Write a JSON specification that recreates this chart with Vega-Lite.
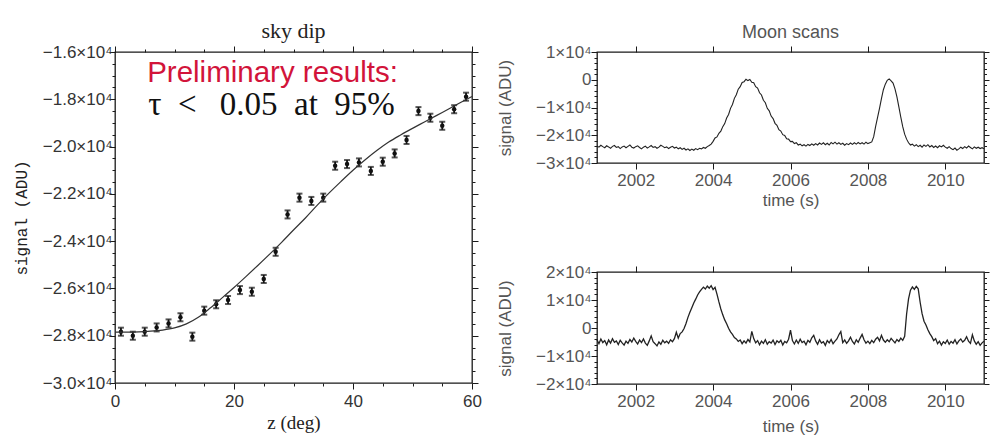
{
  "$schema": "https://vega.github.io/schema/vega-lite/v6.json",
  "background": "white",
  "padding": {"left": 12, "top": 19, "right": 0, "bottom": 0},
  "bounds": "flush",
  "config": {
    "view": {"stroke": "#1a1a1a", "strokeWidth": 1.3},
    "axis": {"domain": false, "grid": false, "ticks": true, "tickColor": "#1a1a1a", "tickWidth": 1, "labelFont": "Liberation Sans", "titleFont": "Liberation Sans", "titleFontWeight": "normal", "labelOverlap": false, "labelFlush": false},
    "title": {"fontWeight": "normal"}
  },
  "datasets": {
    "sky": [
      {"z": 1, "s": -27830, "lo": -28000, "hi": -27660},
      {"z": 3, "s": -28000, "lo": -28170, "hi": -27830},
      {"z": 5, "s": -27830, "lo": -28000, "hi": -27660},
      {"z": 7, "s": -27650, "lo": -27820, "hi": -27480},
      {"z": 9, "s": -27480, "lo": -27650, "hi": -27310},
      {"z": 11, "s": -27220, "lo": -27390, "hi": -27050},
      {"z": 13, "s": -28040, "lo": -28210, "hi": -27870},
      {"z": 15, "s": -26940, "lo": -27110, "hi": -26770},
      {"z": 17, "s": -26670, "lo": -26840, "hi": -26500},
      {"z": 19, "s": -26490, "lo": -26660, "hi": -26320},
      {"z": 21, "s": -26070, "lo": -26240, "hi": -25900},
      {"z": 23, "s": -26140, "lo": -26310, "hi": -25970},
      {"z": 25, "s": -25600, "lo": -25770, "hi": -25430},
      {"z": 27, "s": -24450, "lo": -24620, "hi": -24280},
      {"z": 29, "s": -22870, "lo": -23040, "hi": -22700},
      {"z": 31, "s": -22160, "lo": -22330, "hi": -21990},
      {"z": 33, "s": -22300, "lo": -22470, "hi": -22130},
      {"z": 35, "s": -22160, "lo": -22330, "hi": -21990},
      {"z": 37, "s": -20810, "lo": -20980, "hi": -20640},
      {"z": 39, "s": -20740, "lo": -20910, "hi": -20570},
      {"z": 41, "s": -20670, "lo": -20840, "hi": -20500},
      {"z": 43, "s": -21030, "lo": -21200, "hi": -20860},
      {"z": 45, "s": -20640, "lo": -20810, "hi": -20470},
      {"z": 47, "s": -20290, "lo": -20460, "hi": -20120},
      {"z": 49, "s": -19720, "lo": -19890, "hi": -19550},
      {"z": 51, "s": -18500, "lo": -18670, "hi": -18330},
      {"z": 53, "s": -18780, "lo": -18950, "hi": -18610},
      {"z": 55, "s": -19120, "lo": -19290, "hi": -18950},
      {"z": 57, "s": -18420, "lo": -18590, "hi": -18250},
      {"z": 59, "s": -17890, "lo": -18060, "hi": -17720}
    ],
    "fit": [
      {"z": 0, "s": -27850}, {"z": 2, "s": -27850}, {"z": 4, "s": -27840}, {"z": 6, "s": -27810},
      {"z": 8, "s": -27760}, {"z": 10, "s": -27670}, {"z": 12, "s": -27500}, {"z": 14, "s": -27220},
      {"z": 16, "s": -26830}, {"z": 18, "s": -26400}, {"z": 20, "s": -25960}, {"z": 22, "s": -25500},
      {"z": 24, "s": -25030}, {"z": 26, "s": -24550}, {"z": 28, "s": -24050}, {"z": 30, "s": -23530},
      {"z": 32, "s": -23020}, {"z": 34, "s": -22480}, {"z": 36, "s": -21960}, {"z": 38, "s": -21470},
      {"z": 40, "s": -21000}, {"z": 42, "s": -20570}, {"z": 44, "s": -20170}, {"z": 46, "s": -19810},
      {"z": 48, "s": -19510}, {"z": 50, "s": -19230}, {"z": 52, "s": -18960}, {"z": 54, "s": -18690},
      {"z": 56, "s": -18420}, {"z": 58, "s": -18150}, {"z": 60, "s": -17880}
    ],
    "moon1": [
      {"t": 2001.00, "s": -23900}, {"t": 2001.05, "s": -24300}, {"t": 2001.10, "s": -23600}, {"t": 2001.15, "s": -24100},
      {"t": 2001.20, "s": -24500}, {"t": 2001.25, "s": -23800}, {"t": 2001.30, "s": -24200}, {"t": 2001.35, "s": -24700},
      {"t": 2001.40, "s": -24000}, {"t": 2001.45, "s": -23700}, {"t": 2001.50, "s": -24400}, {"t": 2001.55, "s": -24100},
      {"t": 2001.60, "s": -24800}, {"t": 2001.65, "s": -24200}, {"t": 2001.70, "s": -23900}, {"t": 2001.75, "s": -24500},
      {"t": 2001.80, "s": -24000}, {"t": 2001.85, "s": -23500}, {"t": 2001.90, "s": -24300}, {"t": 2001.95, "s": -24600},
      {"t": 2002.00, "s": -24100}, {"t": 2002.05, "s": -23800}, {"t": 2002.10, "s": -24400}, {"t": 2002.15, "s": -24900},
      {"t": 2002.20, "s": -24300}, {"t": 2002.25, "s": -23900}, {"t": 2002.30, "s": -24600}, {"t": 2002.35, "s": -24200},
      {"t": 2002.40, "s": -23700}, {"t": 2002.45, "s": -24400}, {"t": 2002.50, "s": -24100}, {"t": 2002.55, "s": -24700},
      {"t": 2002.60, "s": -24300}, {"t": 2002.65, "s": -23600}, {"t": 2002.70, "s": -24000}, {"t": 2002.75, "s": -24500},
      {"t": 2002.80, "s": -24200}, {"t": 2002.85, "s": -24800}, {"t": 2002.90, "s": -24300}, {"t": 2002.95, "s": -24000},
      {"t": 2003.00, "s": -24600}, {"t": 2003.05, "s": -24300}, {"t": 2003.10, "s": -24900}, {"t": 2003.15, "s": -24500},
      {"t": 2003.20, "s": -25100}, {"t": 2003.25, "s": -24700}, {"t": 2003.30, "s": -25300}, {"t": 2003.35, "s": -24900},
      {"t": 2003.40, "s": -25500}, {"t": 2003.45, "s": -25000}, {"t": 2003.50, "s": -25400}, {"t": 2003.55, "s": -24800},
      {"t": 2003.60, "s": -25200}, {"t": 2003.65, "s": -24700}, {"t": 2003.70, "s": -24900}, {"t": 2003.75, "s": -24400},
      {"t": 2003.80, "s": -24700}, {"t": 2003.85, "s": -24100}, {"t": 2003.90, "s": -23700}, {"t": 2003.95, "s": -23200},
      {"t": 2004.00, "s": -22200}, {"t": 2004.05, "s": -21000}, {"t": 2004.10, "s": -20600}, {"t": 2004.15, "s": -19300},
      {"t": 2004.20, "s": -18500}, {"t": 2004.25, "s": -16900}, {"t": 2004.30, "s": -15800}, {"t": 2004.35, "s": -13800},
      {"t": 2004.40, "s": -12500}, {"t": 2004.45, "s": -10300}, {"t": 2004.50, "s": -8900}, {"t": 2004.55, "s": -6700},
      {"t": 2004.60, "s": -5400}, {"t": 2004.65, "s": -3400}, {"t": 2004.70, "s": -2500}, {"t": 2004.75, "s": -1000},
      {"t": 2004.80, "s": -700}, {"t": 2004.85, "s": 200}, {"t": 2004.90, "s": -300}, {"t": 2004.95, "s": 100},
      {"t": 2005.00, "s": -900}, {"t": 2005.05, "s": -1100}, {"t": 2005.10, "s": -2500}, {"t": 2005.15, "s": -3000},
      {"t": 2005.20, "s": -4700}, {"t": 2005.25, "s": -5500}, {"t": 2005.30, "s": -7400}, {"t": 2005.35, "s": -8300},
      {"t": 2005.40, "s": -10300}, {"t": 2005.45, "s": -11200}, {"t": 2005.50, "s": -13100}, {"t": 2005.55, "s": -14000},
      {"t": 2005.60, "s": -15700}, {"t": 2005.65, "s": -16400}, {"t": 2005.70, "s": -18000}, {"t": 2005.75, "s": -18500},
      {"t": 2005.80, "s": -19800}, {"t": 2005.85, "s": -20100}, {"t": 2005.90, "s": -21300}, {"t": 2005.95, "s": -21400},
      {"t": 2006.00, "s": -22300}, {"t": 2006.05, "s": -22200}, {"t": 2006.10, "s": -23000}, {"t": 2006.15, "s": -22700},
      {"t": 2006.20, "s": -23500}, {"t": 2006.25, "s": -23200}, {"t": 2006.30, "s": -23800}, {"t": 2006.35, "s": -23400},
      {"t": 2006.40, "s": -23900}, {"t": 2006.45, "s": -23300}, {"t": 2006.50, "s": -23700}, {"t": 2006.55, "s": -23100},
      {"t": 2006.60, "s": -23600}, {"t": 2006.65, "s": -23000}, {"t": 2006.70, "s": -23500}, {"t": 2006.75, "s": -22800},
      {"t": 2006.80, "s": -23300}, {"t": 2006.85, "s": -22700}, {"t": 2006.90, "s": -23400}, {"t": 2006.95, "s": -22900},
      {"t": 2007.00, "s": -23500}, {"t": 2007.05, "s": -22600}, {"t": 2007.10, "s": -23100}, {"t": 2007.15, "s": -22500},
      {"t": 2007.20, "s": -23200}, {"t": 2007.25, "s": -22700}, {"t": 2007.30, "s": -23300}, {"t": 2007.35, "s": -22900},
      {"t": 2007.40, "s": -23600}, {"t": 2007.45, "s": -23000}, {"t": 2007.50, "s": -23400}, {"t": 2007.55, "s": -22800},
      {"t": 2007.60, "s": -23300}, {"t": 2007.65, "s": -22700}, {"t": 2007.70, "s": -23200}, {"t": 2007.75, "s": -22600},
      {"t": 2007.80, "s": -23100}, {"t": 2007.85, "s": -22700}, {"t": 2007.90, "s": -23200}, {"t": 2007.95, "s": -22500},
      {"t": 2008.00, "s": -23000}, {"t": 2008.05, "s": -22700}, {"t": 2008.10, "s": -22400}, {"t": 2008.15, "s": -20500},
      {"t": 2008.20, "s": -16800}, {"t": 2008.25, "s": -13600}, {"t": 2008.30, "s": -10300}, {"t": 2008.35, "s": -6800},
      {"t": 2008.40, "s": -3600}, {"t": 2008.45, "s": -1600}, {"t": 2008.50, "s": -200}, {"t": 2008.55, "s": 300},
      {"t": 2008.60, "s": -400}, {"t": 2008.65, "s": -1200}, {"t": 2008.70, "s": -3300}, {"t": 2008.75, "s": -6200},
      {"t": 2008.80, "s": -9800}, {"t": 2008.85, "s": -13500}, {"t": 2008.90, "s": -16900}, {"t": 2008.95, "s": -19600},
      {"t": 2009.00, "s": -21400}, {"t": 2009.05, "s": -22700}, {"t": 2009.10, "s": -23500}, {"t": 2009.15, "s": -23200},
      {"t": 2009.20, "s": -23900}, {"t": 2009.25, "s": -23400}, {"t": 2009.30, "s": -24100}, {"t": 2009.35, "s": -23600},
      {"t": 2009.40, "s": -24300}, {"t": 2009.45, "s": -23500}, {"t": 2009.50, "s": -24000}, {"t": 2009.55, "s": -23400},
      {"t": 2009.60, "s": -24200}, {"t": 2009.65, "s": -23700}, {"t": 2009.70, "s": -24400}, {"t": 2009.75, "s": -23900},
      {"t": 2009.80, "s": -24500}, {"t": 2009.85, "s": -23800}, {"t": 2009.90, "s": -24200}, {"t": 2009.95, "s": -23600},
      {"t": 2010.00, "s": -24300}, {"t": 2010.05, "s": -24700}, {"t": 2010.10, "s": -24100}, {"t": 2010.15, "s": -24800},
      {"t": 2010.20, "s": -25200}, {"t": 2010.25, "s": -24600}, {"t": 2010.30, "s": -25400}, {"t": 2010.35, "s": -24900},
      {"t": 2010.40, "s": -24300}, {"t": 2010.45, "s": -24800}, {"t": 2010.50, "s": -24100}, {"t": 2010.55, "s": -24600},
      {"t": 2010.60, "s": -23900}, {"t": 2010.65, "s": -24400}, {"t": 2010.70, "s": -24900}, {"t": 2010.75, "s": -24200},
      {"t": 2010.80, "s": -24700}, {"t": 2010.85, "s": -24300}, {"t": 2010.90, "s": -24800}, {"t": 2010.95, "s": -24500},
      {"t": 2011.00, "s": -24900}
    ],
    "moon2": [
      {"t": 2001.00, "s": -4200}, {"t": 2001.05, "s": -5600}, {"t": 2001.10, "s": -3900}, {"t": 2001.15, "s": -5200},
      {"t": 2001.20, "s": -4500}, {"t": 2001.25, "s": -6000}, {"t": 2001.30, "s": -4300}, {"t": 2001.35, "s": -5400},
      {"t": 2001.40, "s": -3800}, {"t": 2001.45, "s": -5100}, {"t": 2001.50, "s": -4600}, {"t": 2001.55, "s": -5900},
      {"t": 2001.60, "s": -4400}, {"t": 2001.65, "s": -5300}, {"t": 2001.70, "s": -6100}, {"t": 2001.75, "s": -4700},
      {"t": 2001.80, "s": -5500}, {"t": 2001.85, "s": -4100}, {"t": 2001.90, "s": -5000}, {"t": 2001.95, "s": -3600},
      {"t": 2002.00, "s": -4800}, {"t": 2002.05, "s": -5700}, {"t": 2002.10, "s": -4300}, {"t": 2002.15, "s": -5200},
      {"t": 2002.20, "s": -3900}, {"t": 2002.25, "s": -5400}, {"t": 2002.30, "s": -6200}, {"t": 2002.35, "s": -4600},
      {"t": 2002.40, "s": -2800}, {"t": 2002.45, "s": -4900}, {"t": 2002.50, "s": -5600}, {"t": 2002.55, "s": -6400},
      {"t": 2002.60, "s": -5000}, {"t": 2002.65, "s": -5800}, {"t": 2002.70, "s": -4400}, {"t": 2002.75, "s": -5300},
      {"t": 2002.80, "s": -4700}, {"t": 2002.85, "s": -5500}, {"t": 2002.90, "s": -4200}, {"t": 2002.95, "s": -4900},
      {"t": 2003.00, "s": -3800}, {"t": 2003.05, "s": -1500}, {"t": 2003.10, "s": -3600}, {"t": 2003.15, "s": -2000},
      {"t": 2003.20, "s": -1400}, {"t": 2003.25, "s": -200}, {"t": 2003.30, "s": 1600}, {"t": 2003.35, "s": 3800},
      {"t": 2003.40, "s": 5600}, {"t": 2003.45, "s": 7200}, {"t": 2003.50, "s": 8900}, {"t": 2003.55, "s": 10300},
      {"t": 2003.60, "s": 11800}, {"t": 2003.65, "s": 12900}, {"t": 2003.70, "s": 13800}, {"t": 2003.75, "s": 14600},
      {"t": 2003.80, "s": 13900}, {"t": 2003.85, "s": 15000}, {"t": 2003.90, "s": 14200}, {"t": 2003.95, "s": 15100},
      {"t": 2004.00, "s": 13700}, {"t": 2004.05, "s": 14500}, {"t": 2004.10, "s": 12100}, {"t": 2004.15, "s": 9300},
      {"t": 2004.20, "s": 6800}, {"t": 2004.25, "s": 4700}, {"t": 2004.30, "s": 2900}, {"t": 2004.35, "s": 1500},
      {"t": 2004.40, "s": -100}, {"t": 2004.45, "s": -1400}, {"t": 2004.50, "s": -2300}, {"t": 2004.55, "s": -3400},
      {"t": 2004.60, "s": -3900}, {"t": 2004.65, "s": -4800}, {"t": 2004.70, "s": -4300}, {"t": 2004.75, "s": -5600},
      {"t": 2004.80, "s": -4600}, {"t": 2004.85, "s": -5400}, {"t": 2004.90, "s": -4100}, {"t": 2004.95, "s": -5000},
      {"t": 2005.00, "s": -1200}, {"t": 2005.05, "s": -3800}, {"t": 2005.10, "s": -5300}, {"t": 2005.15, "s": -4500},
      {"t": 2005.20, "s": -6000}, {"t": 2005.25, "s": -4700}, {"t": 2005.30, "s": -5500}, {"t": 2005.35, "s": -4200},
      {"t": 2005.40, "s": -5800}, {"t": 2005.45, "s": -4900}, {"t": 2005.50, "s": -5400}, {"t": 2005.55, "s": -4300},
      {"t": 2005.60, "s": -5900}, {"t": 2005.65, "s": -4600}, {"t": 2005.70, "s": -5200}, {"t": 2005.75, "s": -4400},
      {"t": 2005.80, "s": -6100}, {"t": 2005.85, "s": -4800}, {"t": 2005.90, "s": -5300}, {"t": 2005.95, "s": -4000},
      {"t": 2006.00, "s": -800}, {"t": 2006.05, "s": -4500}, {"t": 2006.10, "s": -5700}, {"t": 2006.15, "s": -4300},
      {"t": 2006.20, "s": -5500}, {"t": 2006.25, "s": -4000}, {"t": 2006.30, "s": -5200}, {"t": 2006.35, "s": -4700},
      {"t": 2006.40, "s": -6000}, {"t": 2006.45, "s": -4400}, {"t": 2006.50, "s": -5100}, {"t": 2006.55, "s": -3500},
      {"t": 2006.60, "s": -2600}, {"t": 2006.65, "s": -4600}, {"t": 2006.70, "s": -5800}, {"t": 2006.75, "s": -4200},
      {"t": 2006.80, "s": -5400}, {"t": 2006.85, "s": -4900}, {"t": 2006.90, "s": -6200}, {"t": 2006.95, "s": -4500},
      {"t": 2007.00, "s": -5300}, {"t": 2007.05, "s": -4100}, {"t": 2007.10, "s": -5600}, {"t": 2007.15, "s": -4700},
      {"t": 2007.20, "s": -3900}, {"t": 2007.25, "s": -2400}, {"t": 2007.30, "s": -1300}, {"t": 2007.35, "s": -5200},
      {"t": 2007.40, "s": -4300}, {"t": 2007.45, "s": -5500}, {"t": 2007.50, "s": -4600}, {"t": 2007.55, "s": -3300},
      {"t": 2007.60, "s": -4800}, {"t": 2007.65, "s": -5700}, {"t": 2007.70, "s": -4200}, {"t": 2007.75, "s": -5100},
      {"t": 2007.80, "s": -3600}, {"t": 2007.85, "s": -2300}, {"t": 2007.90, "s": -4200}, {"t": 2007.95, "s": -5400},
      {"t": 2008.00, "s": -4700}, {"t": 2008.05, "s": -5600}, {"t": 2008.10, "s": -4400}, {"t": 2008.15, "s": -5200},
      {"t": 2008.20, "s": -4000}, {"t": 2008.25, "s": -3300}, {"t": 2008.30, "s": -4600}, {"t": 2008.35, "s": -2600},
      {"t": 2008.40, "s": -4300}, {"t": 2008.45, "s": -5100}, {"t": 2008.50, "s": -4200}, {"t": 2008.55, "s": -4900},
      {"t": 2008.60, "s": -3700}, {"t": 2008.65, "s": -4500}, {"t": 2008.70, "s": -5300}, {"t": 2008.75, "s": -4100},
      {"t": 2008.80, "s": -4800}, {"t": 2008.85, "s": -3600}, {"t": 2008.90, "s": -4400}, {"t": 2008.95, "s": -3000},
      {"t": 2009.00, "s": 5000}, {"t": 2009.05, "s": 10400}, {"t": 2009.10, "s": 13500}, {"t": 2009.15, "s": 14700},
      {"t": 2009.20, "s": 13800}, {"t": 2009.25, "s": 14900}, {"t": 2009.30, "s": 14000}, {"t": 2009.35, "s": 9200},
      {"t": 2009.40, "s": 5100}, {"t": 2009.45, "s": 2400}, {"t": 2009.50, "s": 1100}, {"t": 2009.55, "s": -600},
      {"t": 2009.60, "s": -2000}, {"t": 2009.65, "s": -3100}, {"t": 2009.70, "s": -4500}, {"t": 2009.75, "s": -3800},
      {"t": 2009.80, "s": -5600}, {"t": 2009.85, "s": -4700}, {"t": 2009.90, "s": -6100}, {"t": 2009.95, "s": -4900},
      {"t": 2010.00, "s": -5500}, {"t": 2010.05, "s": -4300}, {"t": 2010.10, "s": -5800}, {"t": 2010.15, "s": -4800},
      {"t": 2010.20, "s": -5400}, {"t": 2010.25, "s": -4200}, {"t": 2010.30, "s": -5700}, {"t": 2010.35, "s": -4600},
      {"t": 2010.40, "s": -3900}, {"t": 2010.45, "s": -5000}, {"t": 2010.50, "s": -4400}, {"t": 2010.55, "s": -3100},
      {"t": 2010.60, "s": -4700}, {"t": 2010.65, "s": -5500}, {"t": 2010.70, "s": -2400}, {"t": 2010.75, "s": -4600},
      {"t": 2010.80, "s": -5800}, {"t": 2010.85, "s": -4900}, {"t": 2010.90, "s": -6200}, {"t": 2010.95, "s": -5300},
      {"t": 2011.00, "s": -4700}
    ]
  },
  "spacing": 125,
  "hconcat": [
    {
      "width": 357,
      "height": 331,
      "title": {"text": "sky dip", "font": "Liberation Serif", "fontSize": 22, "color": "#222", "offset": 0},
      "resolve": {"axis": {"x": "independent", "y": "independent"}},
      "layer": [
        {
          "data": {"name": "sky"},
          "mark": {"type": "point", "filled": true, "size": 20, "color": "#111", "opacity": 1},
          "encoding": {
            "x": {"field": "z", "type": "quantitative", "scale": {"domain": [0, 60], "nice": false, "zero": false},
              "axis": {"orient": "bottom", "tickSize": 6, "values": [0, 5, 10, 15, 20, 25, 30, 35, 40, 45, 50, 55, 60],
                "labelExpr": "datum.value % 20 === 0 ? datum.label : ''",
                "tickDash": {"condition": {"test": "datum.value % 20 !== 0", "value": [3, 100]}, "value": [100, 0]},
                "labelPadding": 4, "labelFontSize": 17, "labelColor": "#333",
                "title": "z (deg)", "titleFont": "Liberation Serif", "titleFontSize": 19, "titleColor": "#222", "titlePadding": 4}},
            "y": {"field": "s", "type": "quantitative", "scale": {"domain": [-30000, -16000], "nice": false, "zero": false},
              "axis": {"orient": "left", "tickSize": 6, "values": [-30000, -29500, -29000, -28500, -28000, -27500, -27000, -26500, -26000, -25500, -25000, -24500, -24000, -23500, -23000, -22500, -22000, -21500, -21000, -20500, -20000, -19500, -19000, -18500, -18000, -17500, -17000, -16500, -16000],
                "labelExpr": "datum.value % 2000 === 0 ? '−' + format(abs(datum.value) / 10000, '.1f') + '×10⁴' : ''",
                "tickDash": {"condition": {"test": "datum.value % 2000 !== 0", "value": [3, 100]}, "value": [100, 0]},
                "labelPadding": -3, "labelFontSize": 17, "labelColor": "#333",
                "title": "signal (ADU)", "titleFont": "Liberation Mono", "titleFontSize": 16, "titleColor": "#222", "titlePadding": 13}}
          }
        },
        {
          "data": {"name": "sky"},
          "mark": {"type": "rule", "color": "#111", "strokeWidth": 1.8},
          "encoding": {
            "x": {"field": "z", "type": "quantitative",
              "axis": {"orient": "top", "tickSize": 6, "values": [0, 5, 10, 15, 20, 25, 30, 35, 40, 45, 50, 55, 60], "labels": false, "title": null,
                "tickDash": {"condition": {"test": "datum.value % 20 !== 0", "value": [3, 100]}, "value": [100, 0]}}},
            "y": {"field": "lo", "type": "quantitative",
              "axis": {"orient": "right", "tickSize": 6, "values": [-30000, -29500, -29000, -28500, -28000, -27500, -27000, -26500, -26000, -25500, -25000, -24500, -24000, -23500, -23000, -22500, -22000, -21500, -21000, -20500, -20000, -19500, -19000, -18500, -18000, -17500, -17000, -16500, -16000], "labels": false, "title": null,
                "tickDash": {"condition": {"test": "datum.value % 2000 !== 0", "value": [3, 100]}, "value": [100, 0]}}},
            "y2": {"field": "hi"}
          }
        },
        {
          "data": {"name": "sky"},
          "mark": {"type": "tick", "orient": "horizontal", "size": 6, "thickness": 2, "color": "#111"},
          "encoding": {
            "x": {"field": "z", "type": "quantitative", "axis": null},
            "y": {"field": "lo", "type": "quantitative", "axis": null}
          }
        },
        {
          "data": {"name": "sky"},
          "mark": {"type": "tick", "orient": "horizontal", "size": 6, "thickness": 2, "color": "#111"},
          "encoding": {
            "x": {"field": "z", "type": "quantitative", "axis": null},
            "y": {"field": "hi", "type": "quantitative", "axis": null}
          }
        },
        {
          "data": {"name": "fit"},
          "mark": {"type": "line", "color": "#333", "strokeWidth": 1.2, "interpolate": "monotone"},
          "encoding": {
            "x": {"field": "z", "type": "quantitative", "axis": null},
            "y": {"field": "s", "type": "quantitative", "axis": null}
          }
        },
        {
          "data": {"values": [{}]},
          "mark": {"type": "text", "text": "Preliminary results:", "font": "Liberation Sans", "fontSize": 29.5, "color": "#d2143a", "align": "left", "baseline": "alphabetic"},
          "encoding": {
            "x": {"datum": 5.4, "type": "quantitative", "axis": null},
            "y": {"datum": -17270, "type": "quantitative", "axis": null}
          }
        },
        {
          "data": {"values": [{}]},
          "mark": {"type": "text", "text": "τ\u2002<\u2002\u20090.05\u2002at\u200295%", "font": "Liberation Serif", "fontSize": 33, "color": "#111", "align": "left", "baseline": "alphabetic"},
          "encoding": {
            "x": {"datum": 5.6, "type": "quantitative", "axis": null},
            "y": {"datum": -18665, "type": "quantitative", "axis": null}
          }
        }
      ]
    },
    {
      "spacing": 109,
      "bounds": "flush",
      "vconcat": [
        {
          "width": 387,
          "height": 111,
          "title": {"text": "Moon scans", "font": "Liberation Sans", "fontSize": 18, "color": "#555", "offset": 1},
          "resolve": {"axis": {"x": "independent", "y": "independent"}},
          "layer": [
            {
              "data": {"name": "moon1"},
              "mark": {"type": "line", "color": "#222", "strokeWidth": 1.1},
              "encoding": {
                "x": {"field": "t", "type": "quantitative", "scale": {"domain": [2001, 2011], "nice": false, "zero": false},
                  "axis": {"orient": "bottom", "tickSize": 6, "values": [2002, 2004, 2006, 2008, 2010], "format": "d", "labelPadding": 3,
                    "labelFontSize": 17, "labelColor": "#555", "title": "time (s)", "titleFontSize": 17, "titleColor": "#555", "titlePadding": 4}},
                "y": {"field": "s", "type": "quantitative", "scale": {"domain": [-30000, 10000], "nice": false, "zero": false},
                  "axis": {"orient": "left", "tickSize": 6, "values": [-30000, -28000, -26000, -24000, -22000, -20000, -18000, -16000, -14000, -12000, -10000, -8000, -6000, -4000, -2000, 0, 2000, 4000, 6000, 8000, 10000],
                    "labelExpr": "datum.value % 10000 === 0 ? (datum.value === 0 ? '0' : (datum.value < 0 ? '−' : '') + format(abs(datum.value) / 10000, 'd') + '×10⁴') : ''",
                    "tickDash": {"condition": {"test": "datum.value % 10000 !== 0", "value": [3, 100]}, "value": [100, 0]},
                    "labelPadding": 0, "labelFontSize": 17, "labelColor": "#555",
                    "title": "signal (ADU)", "titleFontSize": 17, "titleColor": "#555", "titlePadding": 21}}
              }
            },
            {
              "data": {"name": "moon1"},
              "mark": {"type": "line", "opacity": 0},
              "encoding": {
                "x": {"field": "t", "type": "quantitative",
                  "axis": {"orient": "top", "tickSize": 6, "values": [2002, 2004, 2006, 2008, 2010], "labels": false, "title": null}},
                "y": {"field": "s", "type": "quantitative",
                  "axis": {"orient": "right", "tickSize": 5, "values": [-30000, -28000, -26000, -24000, -22000, -20000, -18000, -16000, -14000, -12000, -10000, -8000, -6000, -4000, -2000, 0, 2000, 4000, 6000, 8000, 10000], "labels": false, "title": null,
                    "tickDash": {"condition": {"test": "datum.value % 10000 !== 0", "value": [2.5, 100]}, "value": [100, 0]}}}
              }
            }
          ]
        },
        {
          "width": 387,
          "height": 112,
          "resolve": {"axis": {"x": "independent", "y": "independent"}},
          "layer": [
            {
              "data": {"name": "moon2"},
              "mark": {"type": "line", "color": "#222", "strokeWidth": 1.3},
              "encoding": {
                "x": {"field": "t", "type": "quantitative", "scale": {"domain": [2001, 2011], "nice": false, "zero": false},
                  "axis": {"orient": "bottom", "tickSize": 6, "values": [2002, 2004, 2006, 2008, 2010], "format": "d", "labelPadding": 3,
                    "labelFontSize": 17, "labelColor": "#555", "title": "time (s)", "titleFontSize": 17, "titleColor": "#555", "titlePadding": 9}},
                "y": {"field": "s", "type": "quantitative", "scale": {"domain": [-20000, 20000], "nice": false, "zero": false},
                  "axis": {"orient": "left", "tickSize": 6, "values": [-20000, -18000, -16000, -14000, -12000, -10000, -8000, -6000, -4000, -2000, 0, 2000, 4000, 6000, 8000, 10000, 12000, 14000, 16000, 18000, 20000],
                    "labelExpr": "datum.value % 10000 === 0 ? (datum.value === 0 ? '0' : (datum.value < 0 ? '−' : '') + format(abs(datum.value) / 10000, 'd') + '×10⁴') : ''",
                    "tickDash": {"condition": {"test": "datum.value % 10000 !== 0", "value": [3, 100]}, "value": [100, 0]},
                    "labelPadding": 0, "labelFontSize": 17, "labelColor": "#555",
                    "title": "signal (ADU)", "titleFontSize": 17, "titleColor": "#555", "titlePadding": 21}}
              }
            },
            {
              "data": {"name": "moon2"},
              "mark": {"type": "line", "opacity": 0},
              "encoding": {
                "x": {"field": "t", "type": "quantitative",
                  "axis": {"orient": "top", "tickSize": 6, "values": [2002, 2004, 2006, 2008, 2010], "labels": false, "title": null}},
                "y": {"field": "s", "type": "quantitative",
                  "axis": {"orient": "right", "tickSize": 5, "values": [-20000, -18000, -16000, -14000, -12000, -10000, -8000, -6000, -4000, -2000, 0, 2000, 4000, 6000, 8000, 10000, 12000, 14000, 16000, 18000, 20000], "labels": false, "title": null,
                    "tickDash": {"condition": {"test": "datum.value % 10000 !== 0", "value": [2.5, 100]}, "value": [100, 0]}}}
              }
            }
          ]
        }
      ]
    }
  ]
}
